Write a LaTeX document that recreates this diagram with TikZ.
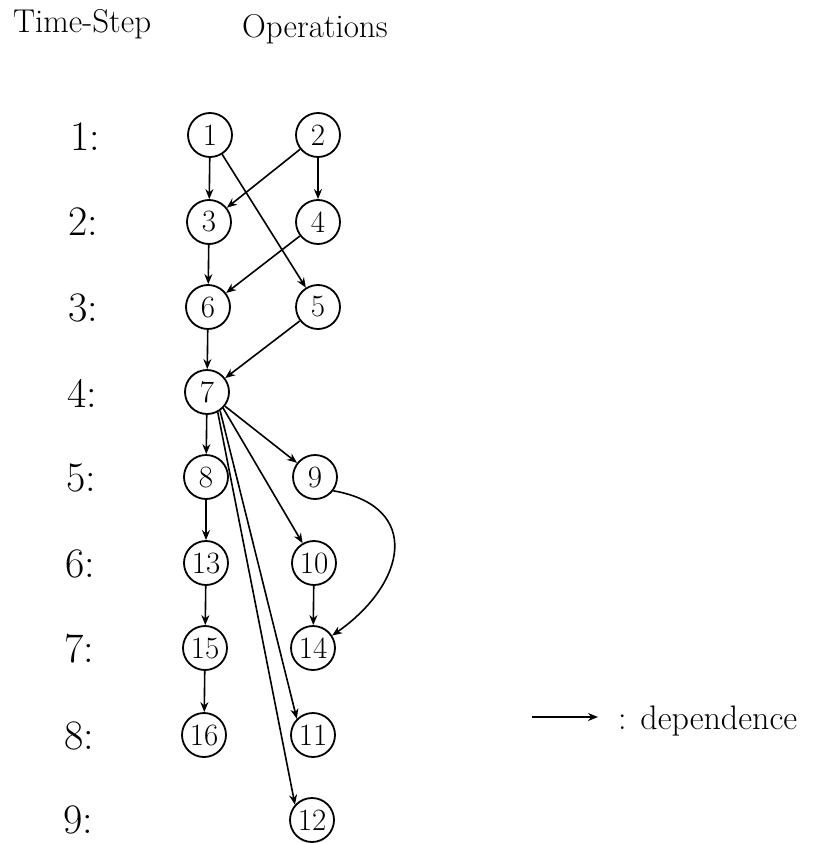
\documentclass[tikz,border=0pt]{standalone}
\usepackage{fontspec}
\usetikzlibrary{arrows.meta}
\begin{document}
\begin{tikzpicture}[x=1pt,y=1pt,
  op/.style={circle,draw,line width=1.8pt,minimum size=44pt,inner sep=0pt,font=\fontsize{31}{31}\selectfont},
  steplab/.style={anchor=west,inner sep=0pt,font=\fontsize{42}{42}\selectfont},
  headlab/.style={anchor=base west,inner sep=0pt,font=\fontsize{33}{35}\selectfont},
  dep/.style={line width=1.6pt,-{Stealth[length=10pt,width=8pt]}}]
\useasboundingbox (0,0) rectangle (812,-843);
% headers
\node[headlab] (hts) at (13,-33) {Time-Step};
\node[headlab] (hop) at (242,-38) {Operations};
% step labels
\node[steplab] (s1) at (70,-137) {1:};
\node[steplab] (s2) at (68,-222) {2:};
\node[steplab] (s3) at (68,-308) {3:};
\node[steplab] (s4) at (67,-393) {4:};
\node[steplab] (s5) at (66,-478) {5:};
\node[steplab] (s6) at (65,-564) {6:};
\node[steplab] (s7) at (64,-649) {7:};
\node[steplab] (s8) at (64,-736) {8:};
\node[steplab] (s9) at (63,-820) {9:};
% operations
\node[op] (n1) at (210,-135) {1};
\node[op] (n2) at (318,-135) {2};
\node[op] (n3) at (209,-222) {3};
\node[op] (n4) at (318,-222) {4};
\node[op] (n6) at (208,-307) {6};
\node[op] (n5) at (318,-307) {5};
\node[op] (n7) at (207,-392) {7};
\node[op] (n8) at (206,-477) {8};
\node[op] (n9) at (315,-477) {9};
\node[op] (n13) at (206,-563) {13};
\node[op] (n10) at (314,-563) {10};
\node[op] (n15) at (205,-648) {15};
\node[op] (n14) at (313,-648) {14};
\node[op] (n16) at (204,-735) {16};
\node[op] (n11) at (313,-735) {11};
\node[op] (n12) at (312,-820) {12};
% dependences
\draw[dep] (n1) -- (n3);
\draw[dep] (n2) -- (n3);
\draw[dep] (n2) -- (n4);
\draw[dep] (n1) -- (n5);
\draw[dep] (n3) -- (n6);
\draw[dep] (n4) -- (n6);
\draw[dep] (n6) -- (n7);
\draw[dep] (n5) -- (n7);
\draw[dep] (n7) -- (n8);
\draw[dep] (n7) -- (n9);
\draw[dep] (n7.-45) -- (n10.120);
\draw[dep] (n7.-55) -- (n11.135);
\draw[dep] (n7.-62) -- (n12.138);
\draw[dep] (n8) -- (n13);
\draw[dep] (n13) -- (n15);
\draw[dep] (n15) -- (n16);
\draw[dep] (n10) -- (n14);
\draw[dep] (n9.-37) to[out=-10,in=35,looseness=1.6] (n14.33);
% legend
\coordinate (la) at (532,-717);
\coordinate (lb) at (598,-717);
\draw[dep] (la) -- (lb);
\node[headlab,font=\fontsize{34}{36}\selectfont] (legtxt) at (618,-729) {: dependence};
\end{tikzpicture}
\end{document}
